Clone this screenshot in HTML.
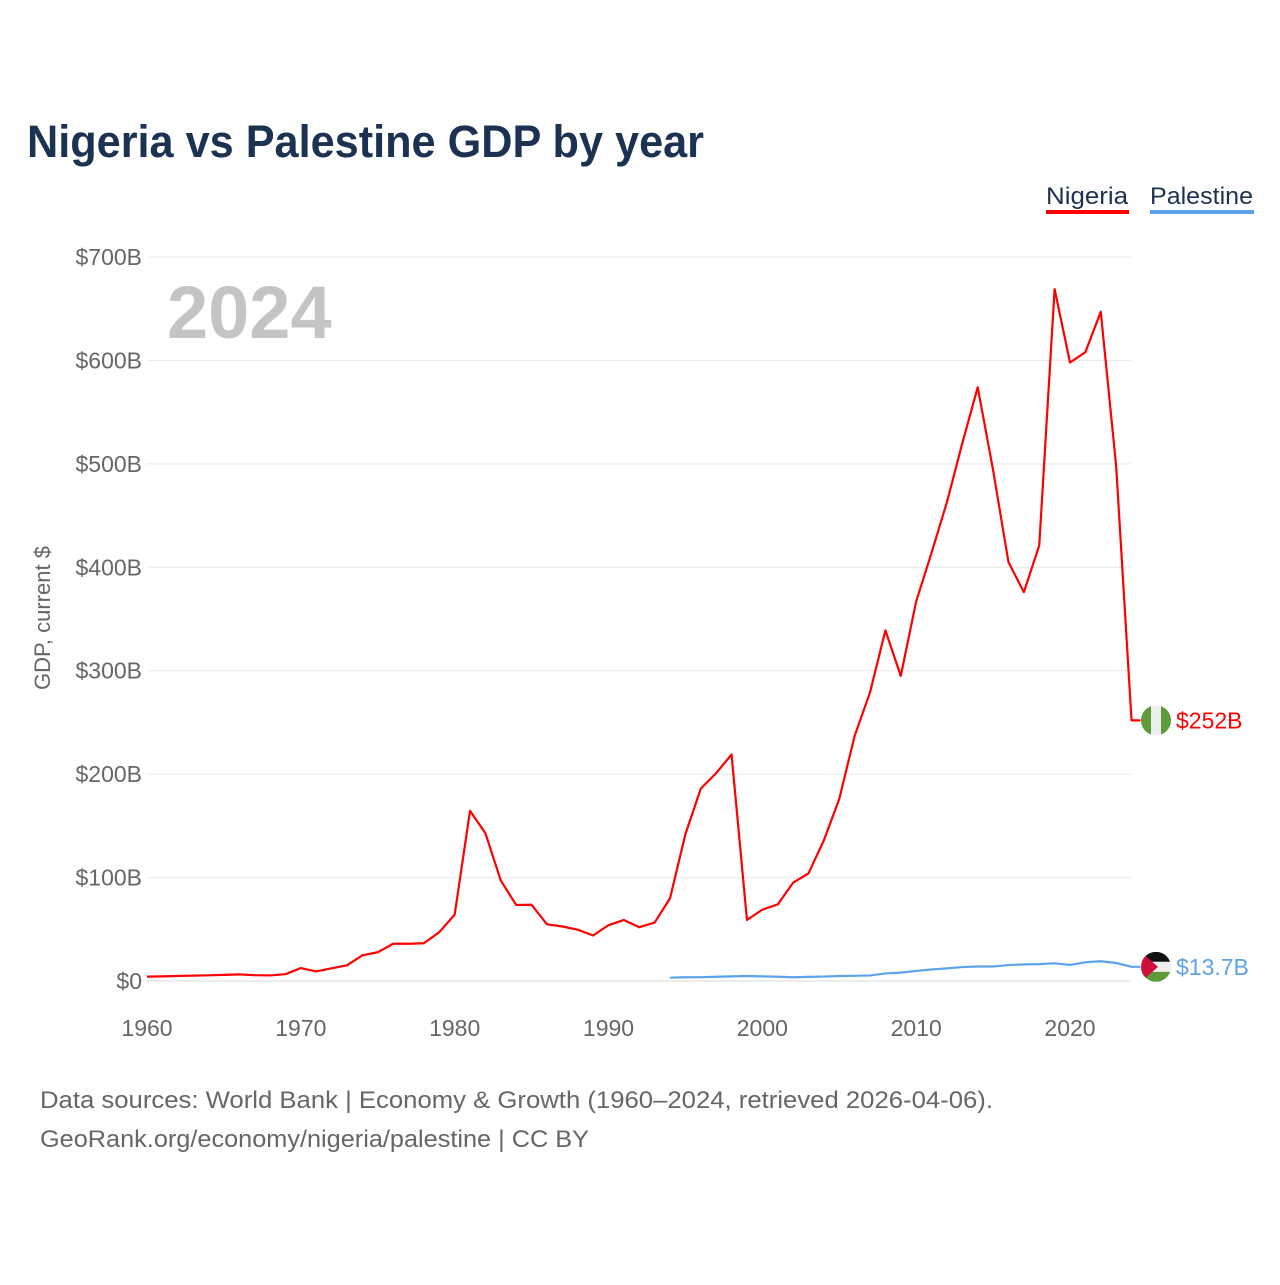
<!DOCTYPE html>
<html><head><meta charset="utf-8"><style>
body{margin:0;background:#fff;width:1280px;height:1280px;overflow:hidden;font-family:"Liberation Sans",sans-serif}
</style></head><body>
<svg width="1280" height="1280">
<text x="27" y="157" font-size="45" font-weight="bold" fill="#1b3252" textLength="677" lengthAdjust="spacingAndGlyphs">Nigeria vs Palestine GDP by year</text>
<g><text x="1046" y="204" font-size="24" fill="#1b3252" textLength="82" lengthAdjust="spacingAndGlyphs">Nigeria</text><rect x="1046" y="210" width="83" height="4" fill="#ff0000"/></g>
<g><text x="1150" y="204" font-size="24" fill="#1b3252" textLength="103" lengthAdjust="spacingAndGlyphs">Palestine</text><rect x="1150" y="210" width="104" height="4" fill="#5ca3ec"/></g>
<g id="grid"></g>
<text x="167" y="338" font-size="74" font-weight="bold" fill="#c4c4c4">2024</text>
<text transform="translate(50,618) rotate(-90)" text-anchor="middle" font-size="22" fill="#666">GDP, current $</text>
<g id="series"></g>
<text x="40" y="1108" font-size="24" fill="#666" textLength="953" lengthAdjust="spacingAndGlyphs">Data sources: World Bank | Economy &amp; Growth (1960–2024, retrieved 2026-04-06).</text>
<text x="40" y="1147" font-size="24" fill="#666" textLength="549" lengthAdjust="spacingAndGlyphs">GeoRank.org/economy/nigeria/palestine | CC BY</text>
</svg>
<script>
const yTicks=[0,100,200,300,400,500,600,700];
const yTickLabels=["$0","$100B","$200B","$300B","$400B","$500B","$600B","$700B"];
const xTicks=[1960,1970,1980,1990,2000,2010,2020];
const nigeriaStart=1960;
const nigeria=[4.2,4.5,4.9,5.2,5.5,5.9,6.4,5.6,5.4,6.6,12.5,9.2,12.3,15.2,24.8,27.8,36,36,36.5,47.2,64.2,164.5,142.8,97.1,73.5,73.7,54.8,52.7,49.6,44,54,59,52,56.5,80,142,186,201,219,59,69,74,95,104,136,176,237,279,339,295,367,414,463,520,574,494,405,376,421,669,598,608,647,498,252];
const palestineStart=1994;
const palestine=[3.2,3.6,3.7,4.1,4.5,4.8,4.5,4.1,3.6,3.97,4.3,4.8,5.0,5.4,7.3,8.1,9.7,11.2,12.2,13.5,14.0,14.0,15.4,16.1,16.3,17.1,15.5,18.1,19.1,17.4,13.7];
const X=y=>147+(y-1960)*(1070-147)/60;
const Y=v=>981-v*(981-257)/700;
const NS="http://www.w3.org/2000/svg";
function mk(t,a,p){const e=document.createElementNS(NS,t);for(const k in a)e.setAttribute(k,a[k]);p.appendChild(e);return e;}
const g=document.getElementById('grid');
yTicks.forEach((v,i)=>{
 const l=mk('line',{x1:147,x2:1131,y1:Y(v),y2:Y(v),stroke:i==0?'#d8d8d8':'#e8e8e8','stroke-width':1},g);
 
 
 const t=mk('text',{x:142,y:Y(v)+8,'text-anchor':'end','font-size':23,fill:'#666'},g);t.textContent=yTickLabels[i];
 
 
});
xTicks.forEach(y=>{
 const t=mk('text',{x:X(y),y:1036,'text-anchor':'middle','font-size':23,fill:'#666'},g);t.textContent=y;
 
 
});
const s=document.getElementById('series');
function line(arr,start,col,name){
 const pts=arr.map((v,i)=>X(start+i)+','+Y(v));
 const last=arr[arr.length-1];
 pts.push((X(start+arr.length-1)+9)+','+Y(last));
 const p=mk('polyline',{points:pts.join(' '),fill:'none',stroke:col,'stroke-width':2.2,'stroke-linejoin':'round'},s);
 
 
 return Y(last);
}
const yn=line(nigeria,nigeriaStart,'#ff0000','nigeria');
const yp=line(palestine,palestineStart,'#5ca3ec','palestine');
const fn=mk('g',{},s);


const cn=mk('clipPath',{id:'cn'},fn);mk('circle',{cx:1156,cy:yn,r:15},cn);
const gn=mk('g',{'clip-path':'url(#cn)'},fn);
mk('rect',{x:1141,y:yn-15,width:10,height:30,fill:'#5e9a3a'},gn);
mk('rect',{x:1151,y:yn-15,width:10,height:30,fill:'#eee'},gn);
mk('rect',{x:1161,y:yn-15,width:10,height:30,fill:'#5e9a3a'},gn);
const tn=mk('text',{x:1176,y:yn+8,'font-size':23,fill:'#ff0000'},s);tn.textContent='$'+nigeria[nigeria.length-1]+'B';


const fp=mk('g',{},s);


const cp=mk('clipPath',{id:'cp'},fp);mk('circle',{cx:1156,cy:yp,r:15},cp);
const gp=mk('g',{'clip-path':'url(#cp)'},fp);
mk('rect',{x:1141,y:yp-15,width:30,height:10,fill:'#111'},gp);
mk('rect',{x:1141,y:yp-5,width:30,height:10,fill:'#eee'},gp);
mk('rect',{x:1141,y:yp+5,width:30,height:10,fill:'#5e9a3a'},gp);
mk('polygon',{points:`1141,${yp-15} 1158,${yp} 1141,${yp+15}`,fill:'#d0103a'},gp);
const tp=mk('text',{x:1176,y:yp+8,'font-size':23,fill:'#5ca3ec'},s);tp.textContent='$'+palestine[palestine.length-1]+'B';


</script>
</body></html>
